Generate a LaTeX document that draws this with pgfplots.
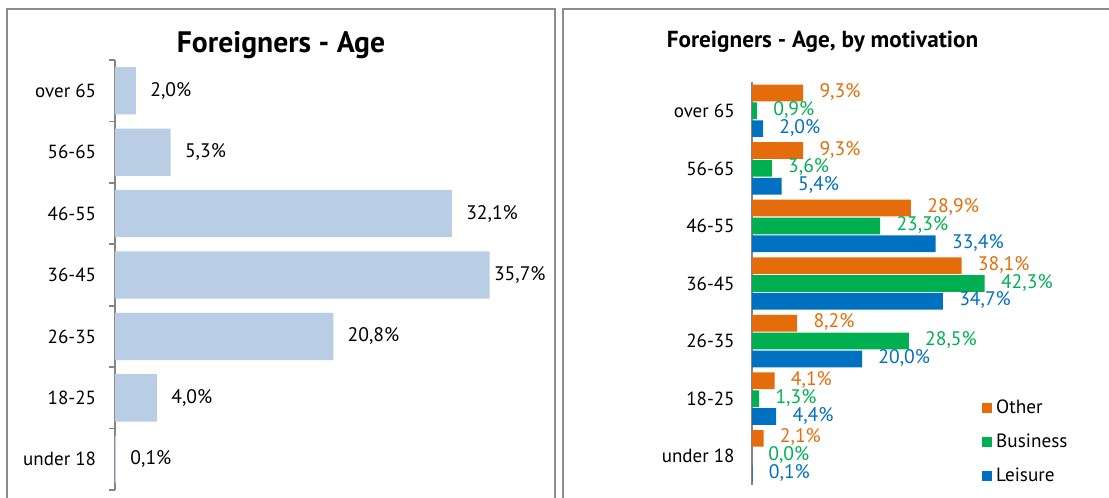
\documentclass[border=0pt]{standalone}
\usepackage{fontspec}
\setmainfont{PT Sans}
\usepackage{pgfplots}
\pgfplotsset{compat=1.18}
\definecolor{lbar}{HTML}{B9CDE5}
\definecolor{orangeC}{HTML}{E46C0A}
\definecolor{greenC}{HTML}{00B050}
\definecolor{blueC}{HTML}{0070C0}
\definecolor{frameC}{HTML}{8C8C8C}
\definecolor{axC}{HTML}{868686}
\begin{document}
\begin{tikzpicture}
\useasboundingbox (0pt,0pt) rectangle (554.5pt,249pt);
% frames
\draw[frameC, line width=1pt] (3.5pt,-2pt) -- (3.5pt,244.5pt) -- (277.5pt,244.5pt) -- (277.5pt,-2pt);
\draw[frameC, line width=1pt] (281.5pt,-2pt) -- (281.5pt,244.5pt) -- (560pt,244.5pt);
\pgfplotsset{
  /pgf/number format/assume math mode=true,
  every axis/.append style={font=\fontsize{9.5}{11}\selectfont},
}
% ---------------- left panel
\begin{axis}[
  at={(57.5pt,4pt)}, anchor=south west,
  scale only axis, width=212.5pt, height=215pt,
  xbar, xmin=0, xmax=40.5,
  ymin=-0.5, ymax=6.5,
  axis x line=none, axis y line=left,
  axis line style={-, draw=axC, line width=0.8pt},
  ytick={0,...,6},
  yticklabels={under 18,18-25,26-35,36-45,46-55,56-65,over 65},
  major tick length=0pt,
  yticklabel style={inner sep=0pt, xshift=-9.3pt},
  extra y ticks={-0.5,0.5,1.5,2.5,3.5,4.5,5.5,6.5},
  extra y tick labels={},
  extra y tick style={major tick length=3pt, tick align=outside, tick style={draw=axC, line width=0.8pt}},
  bar width=0.77,
  visualization depends on={rawx \as \rawx},
  nodes near coords={\pgfmathprintnumber[fixed,fixed zerofill,precision=1,use comma]{\pgfplotspointmeta}\%},
  nodes near coords style={anchor=west, inner sep=0pt, xshift={(\rawx>35 ? 2 : 7)*1pt}, text=black, font=\fontsize{9.8}{11}\selectfont},
  point meta=x,
  clip=false,
]
\addplot[fill=lbar, draw=none] coordinates {
  (0.1,0) (4.0,1) (20.8,2) (35.7,3) (32.1,4) (5.3,5) (2.0,6)
};
\end{axis}
\node[font=\fontsize{14.8}{17}\selectfont\bfseries] at (140.5pt,226.5pt) {Foreigners - Age};
% ---------------- right panel
\begin{axis}[
  at={(376pt,6.5pt)}, anchor=south west,
  scale only axis, width=170.5pt, height=201.5pt,
  xbar, xmin=0, xmax=62,
  ymin=-0.5, ymax=6.5,
  axis x line=none, axis y line=left,
  axis line style={-, draw=axC, line width=0.8pt},
  ytick={0,...,6},
  yticklabels={under 18,18-25,26-35,36-45,46-55,56-65,over 65},
  major tick length=0pt,
  yticklabel style={inner sep=0pt, xshift=-8.5pt},
  bar width=0.29,
  nodes near coords={\pgfmathprintnumber[fixed,fixed zerofill,precision=1,use comma]{\pgfplotspointmeta}\%},
  nodes near coords style={anchor=west, inner sep=0pt, xshift=8pt, yshift=0.5pt, font=\fontsize{9.8}{11}\selectfont},
  point meta=x,
  clip=false,
  legend style={at={(0.674,0.223)}, anchor=north west, draw=none, fill=none,
    inner sep=0pt, row sep=4.8pt, font=\fontsize{9.6}{11}\selectfont},
  legend cell align=left,
]
\addplot[fill=orangeC, draw=none, bar shift=0.31,
  every node near coord/.append style={text=orangeC},
  legend image code/.code={\fill[orangeC] (0pt,-2.5pt) rectangle (5pt,2.5pt);}]
  coordinates {(2.1,0) (4.1,1) (8.2,2) (38.1,3) (28.9,4) (9.3,5) (9.3,6)};
\addlegendentry{Other}
\addplot[fill=greenC, draw=none, bar shift=0,
  every node near coord/.append style={text=greenC},
  legend image code/.code={\fill[greenC] (0pt,-2.5pt) rectangle (5pt,2.5pt);}]
  coordinates {(0.0,0) (1.3,1) (28.5,2) (42.3,3) (23.3,4) (3.6,5) (0.9,6)};
\addlegendentry{Business}
\addplot[fill=blueC, draw=none, bar shift=-0.31,
  every node near coord/.append style={text=blueC},
  legend image code/.code={\fill[blueC] (0pt,-2.5pt) rectangle (5pt,2.5pt);}]
  coordinates {(0.1,0) (4.4,1) (20.0,2) (34.7,3) (33.4,4) (5.4,5) (2.0,6)};
\addlegendentry{Leisure}
\end{axis}
\node[font=\fontsize{11.6}{14}\selectfont\bfseries] at (411.25pt,228pt) {Foreigners - Age, by motivation};
\end{tikzpicture}
\end{document}
